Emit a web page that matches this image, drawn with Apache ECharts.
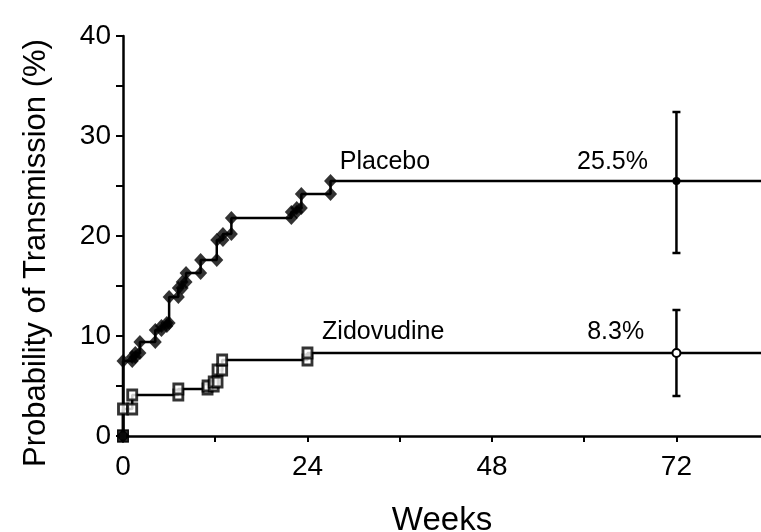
<!DOCTYPE html>
<html>
<head>
<meta charset="utf-8">
<script src="https://cdn.jsdelivr.net/npm/echarts@6/dist/echarts.min.js"></script>
<style>
  html, body { margin: 0; padding: 0; background: #fff; }
  #chart { width: 761px; height: 532px; }
</style>
</head>
<body>
<div id="chart"></div>
<script>
// Kaplan-Meier style steps (weeks, %)
var placeboWeeks = [0, 0, 1.2, 1.6, 2.2, 4.2, 5.0, 5.7, 6.0, 7.2, 7.7, 8.2, 10.1, 12.2, 13.0, 14.1, 21.9, 22.6, 23.2, 27.0];
var placeboPct   = [0, 7.5, 7.9, 8.3, 9.4, 10.6, 11.0, 11.3, 13.9, 14.8, 15.4, 16.3, 17.6, 19.6, 20.2, 21.8, 22.4, 22.8, 24.2, 25.5];

var zidoWeeks = [0, 0, 1.2, 7.2, 11.0, 11.8, 12.3, 12.9, 24.0];
var zidoPct   = [0, 2.7, 4.1, 4.7, 5.0, 5.4, 6.6, 7.6, 8.3];

// estimate at 72 weeks with confidence interval
var ciWeek    = 72;
var placeboCI = [18.3, 32.4];
var zidoCI    = [4.0, 12.6];

var xMax = 83;
var xTicks = [0, 24, 48, 72];
var yTicks = [0, 10, 20, 30, 40];

var labels = [
  [28.2, 27.4, 'Placebo', 'left'],
  [68.3, 27.4, '25.5%', 'right'],
  [25.9, 10.4, 'Zidovudine', 'left'],
  [67.8, 10.4, '8.3%', 'right']
];

function stepLine(ws, vs) {
  var out = [];
  for (var i = 0; i < ws.length; i++) out.push([ws[i], vs[i]]);
  out.push([xMax, vs[vs.length - 1]]);
  return out;
}

// a marker sits at the foot and the top of every jump
function stepMarks(ws, vs) {
  var out = [[ws[0], vs[0]]];
  for (var i = 1; i < ws.length; i++) {
    out.push([ws[i], vs[i - 1]]);
    out.push([ws[i], vs[i]]);
  }
  return out;
}

var FONT = '"Liberation Sans", Arial, Helvetica, sans-serif';

var chart = echarts.init(document.getElementById('chart'));

chart.setOption({
  animation: false,
  backgroundColor: '#fff',
  grid: { left: 123, right: 0, top: 36, bottom: 96, containLabel: false, outerBoundsMode: 'none' },
  xAxis: {
    type: 'value',
    min: 0,
    max: xMax,
    interval: 12,
    name: 'Weeks',
    nameLocation: 'middle',
    nameGap: 68,
    nameTextStyle: { fontFamily: FONT, fontSize: 33, color: '#000' },
    axisLine: { lineStyle: { color: '#000', width: 2.5 } },
    axisTick: { length: 6, lineStyle: { color: '#000', width: 2 } },
    axisLabel: {
      margin: 17, fontFamily: FONT, fontSize: 28, color: '#000',
      showMaxLabel: false,
      formatter: function (v) { return xTicks.indexOf(v) >= 0 ? String(v) : ''; }
    },
    splitLine: { show: false }
  },
  yAxis: {
    type: 'value',
    min: 0,
    max: 40,
    interval: 5,
    axisLine: { show: true, lineStyle: { color: '#000', width: 2.5 } },
    axisTick: { show: true, length: 7, lineStyle: { color: '#000', width: 2 } },
    axisLabel: {
      margin: 12, fontFamily: FONT, fontSize: 28, color: '#000',
      formatter: function (v) { return yTicks.indexOf(v) >= 0 ? String(v) : ''; }
    },
    splitLine: { show: false }
  },
  graphic: [{
    type: 'text',
    x: 36, y: 253,
    rotation: Math.PI / 2,
    style: {
      text: 'Probability of Transmission (%)',
      fontFamily: FONT, fontSize: 31, fill: '#000',
      align: 'center', verticalAlign: 'middle'
    }
  }],
  series: [
    {
      name: 'Placebo',
      type: 'line',
      step: 'end',
      data: stepLine(placeboWeeks, placeboPct),
      showSymbol: false,
      lineStyle: { color: '#000', width: 2.5 },
      z: 2
    },
    {
      name: 'Zidovudine',
      type: 'line',
      step: 'end',
      data: stepLine(zidoWeeks, zidoPct),
      showSymbol: false,
      lineStyle: { color: '#000', width: 2.5 },
      z: 2
    },
    {
      type: 'scatter',
      data: stepMarks(zidoWeeks, zidoPct),
      symbol: 'rect',
      symbolSize: [9, 10],
      itemStyle: { color: '#fff', borderColor: '#000', borderWidth: 3 },
      z: 3
    },
    {
      type: 'scatter',
      data: stepMarks(placeboWeeks, placeboPct),
      symbol: 'diamond',
      symbolSize: [13, 14],
      itemStyle: { color: '#000' },
      z: 4
    },
    {
      // confidence bars at 72 weeks
      type: 'custom',
      data: [
        [ciWeek, placeboPct[placeboPct.length - 1], placeboCI[0], placeboCI[1], 0],
        [ciWeek, zidoPct[zidoPct.length - 1], zidoCI[0], zidoCI[1], 1]
      ],
      renderItem: function (params, api) {
        var mid = api.coord([api.value(0), api.value(1)]);
        var lo = api.coord([api.value(0), api.value(2)]);
        var hi = api.coord([api.value(0), api.value(3)]);
        var st = { stroke: '#000', lineWidth: 2.5 };
        var kids = [
          { type: 'line', shape: { x1: lo[0], y1: lo[1], x2: hi[0], y2: hi[1] }, style: st },
          { type: 'line', shape: { x1: lo[0] - 4, y1: lo[1], x2: lo[0] + 4, y2: lo[1] }, style: st },
          { type: 'line', shape: { x1: hi[0] - 4, y1: hi[1], x2: hi[0] + 4, y2: hi[1] }, style: st }
        ];
        if (api.value(4) === 0) {
          kids.push({ type: 'circle', shape: { cx: mid[0], cy: mid[1], r: 4 }, style: { fill: '#000' } });
        } else {
          kids.push({ type: 'circle', shape: { cx: mid[0], cy: mid[1], r: 4 }, style: { fill: '#fff', stroke: '#000', lineWidth: 2 } });
        }
        return { type: 'group', children: kids };
      },
      z: 5
    },
    {
      type: 'custom',
      data: labels,
      renderItem: function (params, api) {
        var p = api.coord([api.value(0), api.value(1)]);
        var d = labels[params.dataIndex];
        return {
          type: 'text',
          x: p[0], y: p[1],
          style: {
            text: d[2], fontFamily: FONT, fontSize: 25, fill: '#000',
            align: d[3], verticalAlign: 'middle'
          }
        };
      },
      z: 6
    }
  ]
});
</script>
</body>
</html>
